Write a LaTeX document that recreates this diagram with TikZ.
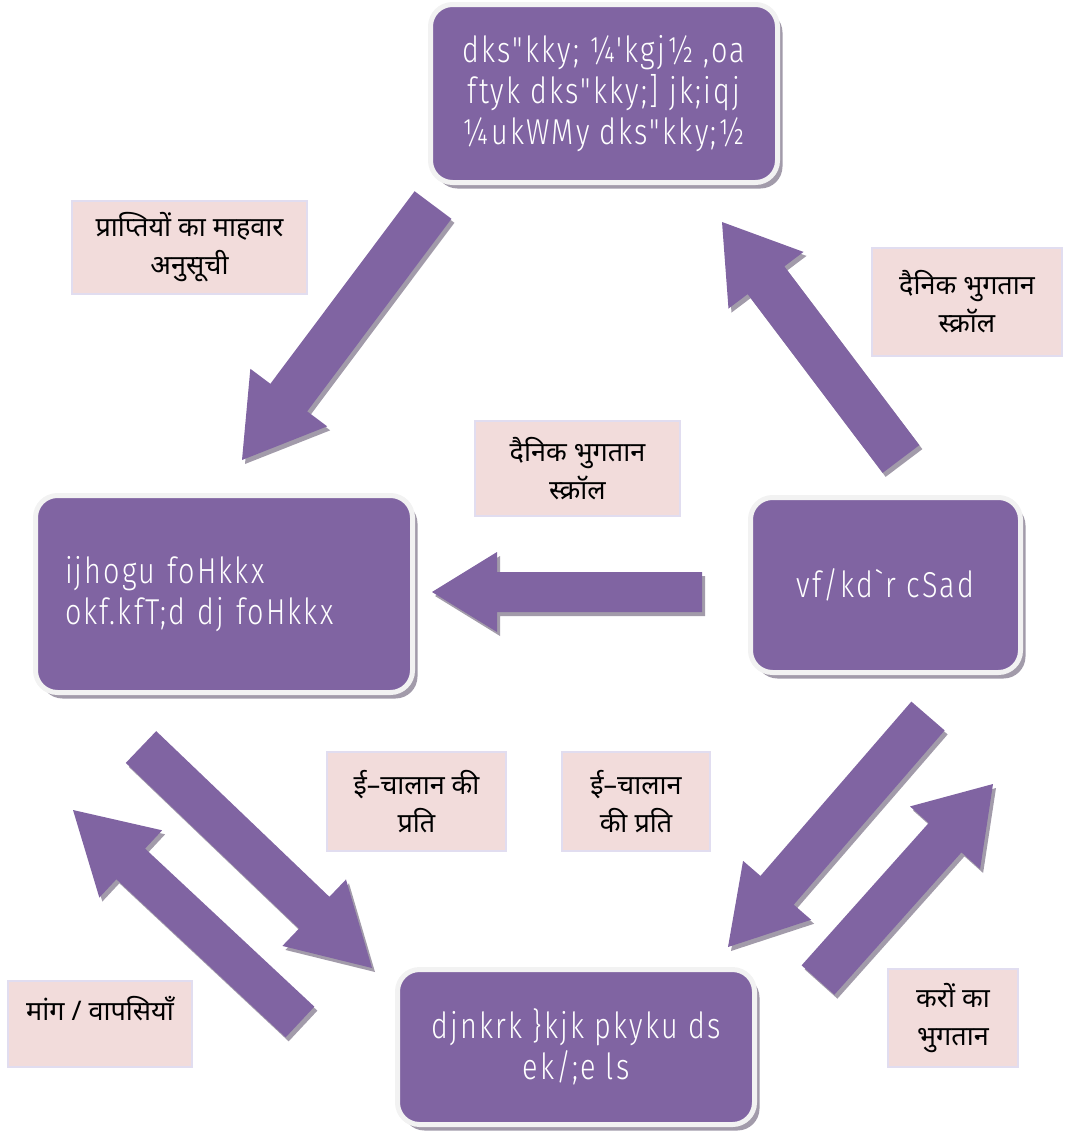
\documentclass[tikz,border=0pt]{standalone}
\usepackage{fontspec}
\usepackage{tikz}
\usetikzlibrary{calc,shadows}
\newfontfamily\kdfont{Fira Sans Light}[Ligatures=TeXOff, FakeStretch=0.8, LetterSpace=6]
\newfontfamily\hindifont[Script=Devanagari]{Noto Sans}
\definecolor{violetbloc}{HTML}{8064A2}
\definecolor{ombregris}{HTML}{A29BAA}
\definecolor{bordclair}{HTML}{F2F2F2}
\definecolor{rosepale}{HTML}{F2DCDB}
\definecolor{lavande}{HTML}{E1DDF0}
% grosse fleche pleine : depart, pointe, demi-corps, demi-tete, longueur tete
\newcommand{\blocfleche}[5]{%
  \coordinate (cou) at ($(#2)!#5!(#1)$);
  \foreach \sty in {ombre fleche, fleche}{
    \fill[\sty] ($(#1)!#3!90:(#2)$) -- ($(cou)!#3!90:(#2)$) -- ($(cou)!#4!90:(#2)$) -- (#2)
      -- ($(cou)!#4!-90:(#2)$) -- ($(cou)!#3!-90:(#2)$) -- ($(#1)!#3!-90:(#2)$) -- cycle;}
}
\begin{document}
\begin{tikzpicture}[x=1pt,y=-1pt,
  boite/.style={rounded corners=22pt, fill=violetbloc, draw=bordclair, line width=5pt,
    text=white, font=\kdfont\fontsize{36}{41}\selectfont, align=center,
    drop shadow={shadow xshift=5pt,shadow yshift=-6pt,fill=ombregris,opacity=1}},
  etiquette/.style={fill=rosepale, draw=lavande, line width=1.5pt, align=center,
    font=\hindifont\fontsize{27}{38}\selectfont},
  fleche/.style={fill=violetbloc},
  ombre fleche/.style={fill=ombregris, transform canvas={shift={(3,4)}}}]
    \useasboundingbox (0,0) rectangle (1066,1133);
    % Boites
    \node[boite, minimum width=347, minimum height=178] (kosh) at (604,93.5)
      {dks"kky; ¼'kgj½ ,oa\\ftyk dks"kky;] jk;iqj\\¼ukWMy dks"kky;½}; % Haut
    \node[boite, minimum width=377, minimum height=197, text width=318pt,
      inner xsep=29.5pt, align=left] (vibhag) at (224,594)
      {ijhogu foHkkx\\okf.kfT;d dj foHkkx}; % Gauche
    \node[boite, minimum width=270, minimum height=175] (bank) at (885.5,585)
      {vf/kd`r cSad}; % Droit
    \node[boite, minimum width=357, minimum height=155] (kardata) at (576,1047)
      {djnkrk \}kjk pkyku ds\\ek/;e ls}; % Bas
    % Etiquettes
    \node[etiquette, minimum width=235, minimum height=93] (masik) at (189.5,247.5)
      {प्राप्तियों का माहवार\\अनुसूची};
    \node[etiquette, minimum width=190, minimum height=108] (scrollA) at (967,302)
      {दैनिक भुगतान\\स्क्रॉल};
    \node[etiquette, minimum width=205, minimum height=95] (scrollB) at (577.5,468.5)
      {दैनिक भुगतान\\स्क्रॉल};
    \node[etiquette, minimum width=179, minimum height=99] (challanA) at (416.5,801.5)
      {ई–चालान की\\प्रति};
    \node[etiquette, minimum width=148, minimum height=99] (challanB) at (636,801.5)
      {ई–चालान\\की प्रति};
    \node[etiquette, minimum width=184, minimum height=86, text height=22pt,
      text depth=30pt] (maang) at (100,1024) {मांग / वापसियाँ};
    \node[etiquette, minimum width=130, minimum height=98] (kar) at (953,1018)
      {करों का\\भुगतान};
    % Fleches
    \coordinate (a1) at (433,205); \coordinate (b1) at (242,460); % kosh -> vibhag
    \coordinate (a2) at (901,459); \coordinate (b2) at (722,222); % bank -> kosh
    \coordinate (a3) at (702,592); \coordinate (b3) at (432,592); % bank -> vibhag
    \coordinate (a4) at (141,747); \coordinate (b4) at (372,968); % vibhag -> kardata
    \coordinate (a5) at (300,1022); \coordinate (b5) at (73,810); % kardata -> vibhag
    \coordinate (a6) at (928,716); \coordinate (b6) at (728,947); % bank -> kardata
    \coordinate (a7) at (818,980); \coordinate (b7) at (993,784); % kardata -> bank
    \blocfleche{a1}{b1}{23pt}{48pt}{78pt}
    \blocfleche{a2}{b2}{23pt}{47pt}{73pt}
    \blocfleche{a3}{b3}{20pt}{40pt}{65pt}
    \blocfleche{a4}{b4}{22pt}{46pt}{80pt}
    \blocfleche{a5}{b5}{21pt}{46pt}{79pt}
    \blocfleche{a6}{b6}{22pt}{45pt}{75pt}
    \blocfleche{a7}{b7}{22pt}{47pt}{72pt}
\end{tikzpicture}
\end{document}
